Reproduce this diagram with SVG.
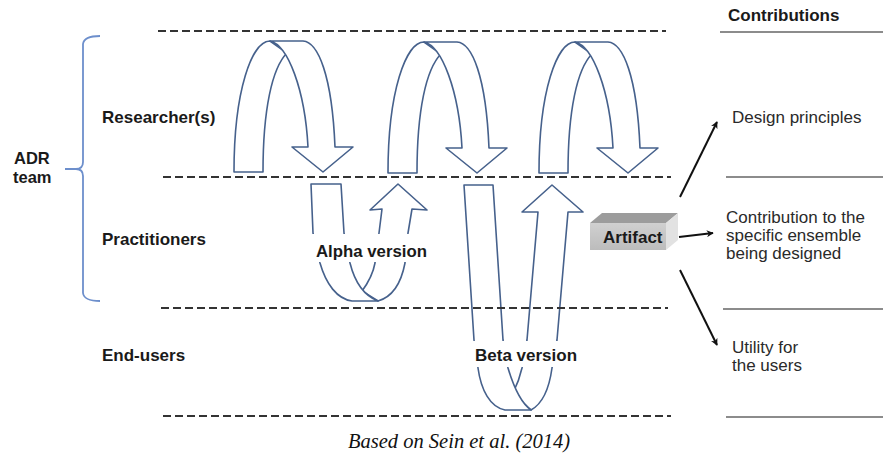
<svg xmlns="http://www.w3.org/2000/svg" xmlns:xlink="http://www.w3.org/1999/xlink" width="883" height="454" viewBox="0 0 883 454">
<style>
.lbl{font-family:"Liberation Sans",Arial,sans-serif;font-weight:bold;font-size:17px;fill:#1a1a1a}
.txt{font-family:"Liberation Sans",Arial,sans-serif;font-size:17px;fill:#2a2a2a}
.dash{stroke:#333;stroke-width:2;stroke-dasharray:8 4;fill:none}
.solid{stroke:#666;stroke-width:1.6;fill:none}
.rib{fill:#fff;stroke:#46618c;stroke-width:1.6;stroke-linejoin:round}
.conn{stroke:#111;stroke-width:2;fill:none}
</style>
<defs>
<marker id="ah" viewBox="0 0 10 10" refX="9" refY="5" markerWidth="7" markerHeight="7" orient="auto" markerUnits="userSpaceOnUse">
<path d="M0,0 L10,5 L0,10 L3,5 Z" fill="#111"/>
</marker>
<g id="loop">
<path class="rib" d="M234,172 C234,90 252,41 270,41 L287,53 C272,68 263,110 263,172 Z"/>
<path class="rib" d="M270,41 L303,41 C318,42 332,75 335,147 L353,147 L323,172 L292,147 L308,147 C305,90 288,45 270,41 Z"/>
</g>
<linearGradient id="front" x1="0" y1="0" x2="0" y2="1">
<stop offset="0" stop-color="#d0d0d0"/>
<stop offset="1" stop-color="#bcbcbc"/>
</linearGradient>
</defs>
<rect width="883" height="454" fill="#fff"/>

<g id="brace">
<path d="M100,36 Q84,36 83,44 L83,162 Q83,169 76,169 L65,169 L76,169 Q83,169 83,176 L83,293 Q84,301 100,301" fill="none" stroke="#6d8fcc" stroke-width="1.8"/>
</g>

<g id="labels">
<text class="lbl" x="14" y="164" style="font-size:16.5px">ADR</text>
<text class="lbl" x="13" y="183" style="font-size:16.5px">team</text>
<text class="lbl" x="102" y="123">Researcher(s)</text>
<text class="lbl" x="102" y="245">Practitioners</text>
<text class="lbl" x="102" y="361">End-users</text>
<text class="lbl" x="728" y="21">Contributions</text>
</g>

<g id="loop1"><use xlink:href="#loop"/></g>
<g id="loop2"><use xlink:href="#loop" x="154" y="1"/></g>
<g id="loop3"><use xlink:href="#loop" x="305" y="1"/></g>

<g id="alpha">
<path class="rib" d="M382,209 L370,210 L398,184 L427,210 L412,209 L408,233 L405,263 C401,284 392,297 378,301 L362,291 C368,283 373,274 375,263 L379,233 Z"/>
<path class="rib" d="M311,184 L341,184 L344,233 L350,263 C355,283 365,296 378,301 L352,301 C337,299 326,284 320,263 L313,233 Z"/>
<rect x="305" y="234" width="128" height="28" fill="#fff"/>
<text class="lbl" x="316" y="257" style="font-size:16.8px">Alpha version</text>
</g>

<g id="beta">
<path class="rib" d="M538,212 L522,212 L552,185 L583,212 L568,212 L557,340 L552,368 C549,390 542,404 531,410 L513,393 C517,385 520,377 522,368 L527,340 Z"/>
<path class="rib" d="M464,185 L493,185 L503,340 L508,368 C514,388 521,403 531,410 L505,410 C490,407 481,390 478,368 L474,340 Z"/>
<rect x="462" y="341" width="128" height="26" fill="#fff"/>
<text class="lbl" x="475" y="361">Beta version</text>
</g>

<g id="lanes">
<line class="dash" x1="158" y1="31" x2="666" y2="31"/>
<line class="dash" x1="163" y1="177" x2="671" y2="177"/>
<line class="dash" x1="161" y1="308" x2="668" y2="308"/>
<line class="dash" x1="163" y1="416" x2="671" y2="416"/>
<line class="solid" x1="720" y1="32" x2="883" y2="32"/>
<line class="solid" x1="726" y1="177" x2="883" y2="177"/>
<line class="solid" x1="723" y1="309" x2="883" y2="309"/>
<line class="solid" x1="726" y1="417" x2="883" y2="417"/>
</g>

<g id="artifact">
<polygon points="590,223 602,213 678,213 666,223" fill="#9c9c9c"/>
<polygon points="666,223 678,213 678,240 666,250" fill="#e2e2e2"/>
<rect x="590" y="223" width="76" height="27" fill="url(#front)"/>
<text class="lbl" x="603" y="243">Artifact</text>
</g>

<g id="connectors">
<line class="conn" x1="680" y1="197" x2="717" y2="122" marker-end="url(#ah)"/>
<line class="conn" x1="679" y1="237" x2="713" y2="233" marker-end="url(#ah)"/>
<line class="conn" x1="680" y1="270" x2="717" y2="345" marker-end="url(#ah)"/>
</g>

<g id="contributions">
<text class="txt" x="732" y="123">Design principles</text>
<text class="txt" x="726" y="223">Contribution to the</text>
<text class="txt" x="726" y="241">specific ensemble</text>
<text class="txt" x="726" y="259">being designed</text>
<text class="txt" x="732" y="353">Utility for</text>
<text class="txt" x="732" y="371">the users</text>
</g>

<text x="348" y="448" style="font-family:'Liberation Serif','Times New Roman',serif;font-style:italic;font-size:20.5px;fill:#111">Based on Sein et al. (2014)</text>
</svg>
